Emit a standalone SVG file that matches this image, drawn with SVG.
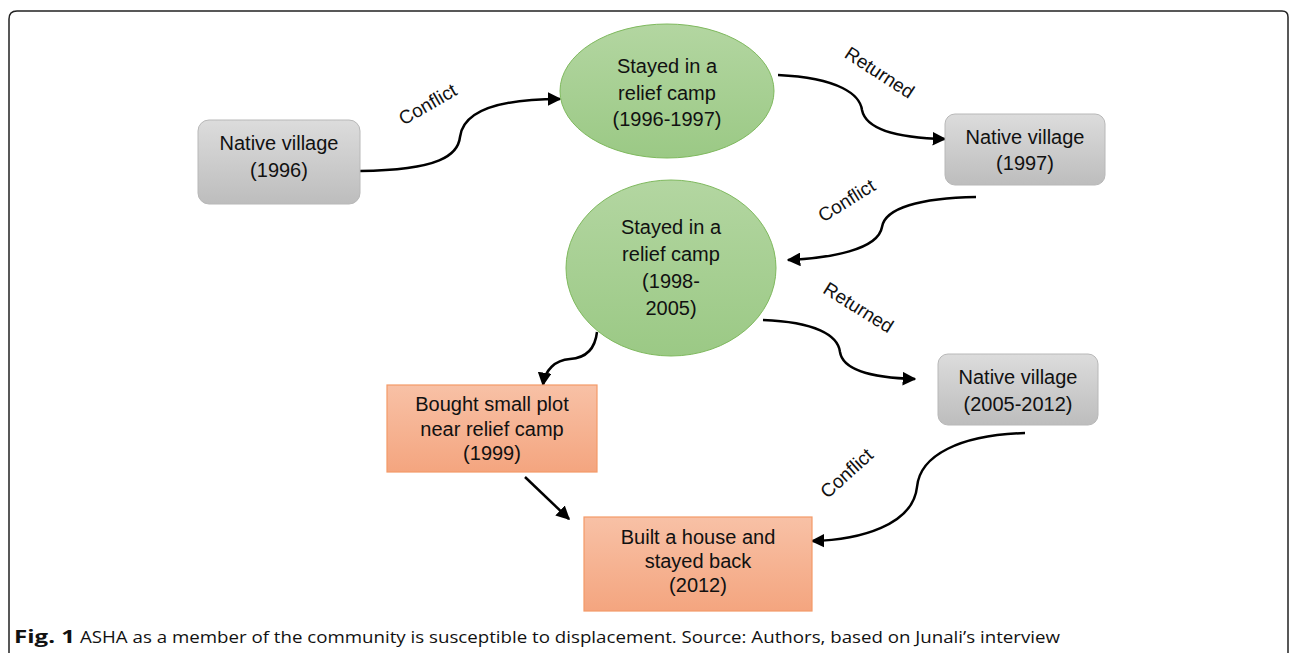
<svg xmlns="http://www.w3.org/2000/svg" width="1290" height="653" viewBox="0 0 1290 653">
<defs>
<linearGradient id="gGray" x1="0" y1="0" x2="0" y2="1"><stop offset="0" stop-color="#dcdcdc"/><stop offset="1" stop-color="#bdbdbd"/></linearGradient>
<linearGradient id="gGreen" x1="0" y1="0" x2="0" y2="1"><stop offset="0" stop-color="#b3d6a1"/><stop offset="1" stop-color="#9bc985"/></linearGradient>
<linearGradient id="gOrange" x1="0" y1="0" x2="0" y2="1"><stop offset="0" stop-color="#f8c1a6"/><stop offset="1" stop-color="#f4a57f"/></linearGradient>
<marker id="arr" viewBox="0 0 10 10" refX="9" refY="5" markerWidth="5.5" markerHeight="5.5" orient="auto" markerUnits="strokeWidth">
<path d="M0,0 L10,5 L0,10 z" fill="#000"/>
</marker>
</defs>
<style>
.t{font-family:"Liberation Sans",Arial,sans-serif;font-size:20px;fill:#111;text-anchor:middle}
.lbl{font-family:"Liberation Sans",Arial,sans-serif;font-size:19px;fill:#111;text-anchor:middle}
.gray{fill:url(#gGray);stroke:#b8b8b8;stroke-width:1}
.green{fill:url(#gGreen);stroke:#7fb95e;stroke-width:1}
.orange{fill:url(#gOrange);stroke:#f49a68;stroke-width:1.2}
.c{fill:none;stroke:#000;stroke-width:2.5;marker-end:url(#arr)}
.cap{font-family:"Open Sans","Liberation Sans",sans-serif;font-size:17px;fill:#111}
</style>
<rect width="1290" height="653" fill="#fff"/>
<path d="M9,660 V19 Q9,11 17,11 H1282 Q1288,11 1288,17 V660" fill="none" stroke="#222" stroke-width="1.5"/>

<g id="connectors">
<path class="c" d="M360,171 C440,170 458,155 460,137 C463,112 495,99 560,99"/>
<path class="c" d="M778,75 C840,78 860,95 862,110 C866,130 900,138 945,139"/>
<path class="c" d="M976,197 C920,198 885,208 882,227 C878,250 830,258 788,260"/>
<path class="c" d="M763,320 C815,322 838,335 840,352 C843,372 880,378 915,379"/>
<path class="c" d="M1025,433 C960,435 920,455 917,487 C913,525 860,540 812,541"/>
<path class="c" d="M597,332 C595,350 585,358 570,359 C555,360 545,370 543,385"/>
<path class="c" d="M525,477 L569,519"/>
</g>

<g id="labels">
<text class="lbl" transform="translate(431,110) rotate(-30)">Conflict</text>
<text class="lbl" transform="translate(876,78) rotate(33)">Returned</text>
<text class="lbl" transform="translate(850,206) rotate(-32)">Conflict</text>
<text class="lbl" transform="translate(855,313) rotate(32)">Returned</text>
<text class="lbl" transform="translate(851,478) rotate(-42)">Conflict</text>
</g>

<g id="n1">
<rect class="gray" x="198" y="120" width="162" height="84" rx="11"/>
<text class="t" x="279" y="150">Native village</text>
<text class="t" x="279" y="177">(1996)</text>
</g>
<g id="n2">
<ellipse class="green" cx="667" cy="91" rx="107" ry="67"/>
<text class="t" x="667" y="73">Stayed in a</text>
<text class="t" x="667" y="100">relief camp</text>
<text class="t" x="667" y="126">(1996-1997)</text>
</g>
<g id="n3">
<rect class="gray" x="945" y="114" width="160" height="71" rx="10"/>
<text class="t" x="1025" y="144">Native village</text>
<text class="t" x="1025" y="170">(1997)</text>
</g>
<g id="n4">
<ellipse class="green" cx="671" cy="268" rx="105" ry="88"/>
<text class="t" x="671" y="234">Stayed in a</text>
<text class="t" x="671" y="261">relief camp</text>
<text class="t" x="671" y="288">(1998-</text>
<text class="t" x="671" y="315">2005)</text>
</g>
<g id="n5">
<rect class="gray" x="938" y="354" width="160" height="71" rx="10"/>
<text class="t" x="1018" y="384">Native village</text>
<text class="t" x="1018" y="411">(2005-2012)</text>
</g>
<g id="n6">
<rect class="orange" x="387" y="385" width="210" height="87"/>
<text class="t" x="492" y="411">Bought small plot</text>
<text class="t" x="492" y="436">near relief camp</text>
<text class="t" x="492" y="460">(1999)</text>
</g>
<g id="n7">
<rect class="orange" x="584" y="517" width="228" height="94"/>
<text class="t" x="698" y="544">Built a house and</text>
<text class="t" x="698" y="568">stayed back</text>
<text class="t" x="698" y="592">(2012)</text>
</g>

<g id="caption">
<text class="cap" x="14" y="643" font-weight="bold" textLength="61" lengthAdjust="spacingAndGlyphs">Fig. 1</text>
<text class="cap" x="80" y="643" textLength="980" lengthAdjust="spacingAndGlyphs">ASHA as a member of the community is susceptible to displacement. Source: Authors, based on Junali’s interview</text>
</g>
</svg>
